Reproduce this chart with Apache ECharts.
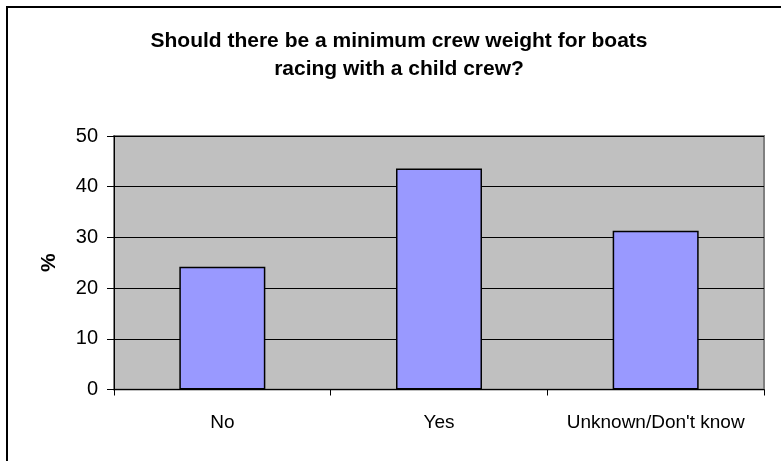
<!DOCTYPE html>
<html>
<head>
<meta charset="utf-8">
<script src="https://cdn.jsdelivr.net/npm/echarts@6/dist/echarts.min.js"></script>
<style>html,body{margin:0;padding:0;background:#fff}#c{width:781px;height:461px}</style>
</head>
<body>
<div id="c"></div>
<script>
var titleText = "Should there be a minimum crew weight for boats\nracing with a child crew?";
var categories = ["No", "Yes", "Unknown/Don't know"];
var values = [24.2, 43.6, 31.3];
var yTicks = [0, 10, 20, 30, 40, 50];
var yName = "%";

var chart = echarts.init(document.getElementById('c'), null, {renderer: 'canvas'});
var font = 'Liberation Sans, Arial, sans-serif';
chart.setOption({
  animation: false,
  backgroundColor: '#fff',
  title: {
    text: titleText,
    left: 394, top: 22, textAlign: 'center',
    textStyle: {fontFamily: font, fontSize: 21, fontWeight: 'bold', color: '#000', lineHeight: 28}
  },
  graphic: [{
    type: 'rect', shape: {x: 7, y: 7, width: 820, height: 520},
    style: {fill: 'none', stroke: '#000', lineWidth: 2}, silent: true, z: 100
  }],
  grid: {
    left: 114, right: 17, top: 136, bottom: 71.5,
    show: true, backgroundColor: '#C0C0C0', borderColor: '#808080', borderWidth: 2
  },
  xAxis: {
    type: 'category', data: categories,
    axisLine: {lineStyle: {color: '#000', width: 1}},
    axisTick: {show: true, length: 6, interval: 0, lineStyle: {color: '#000'}},
    axisLabel: {interval: 0, hideOverlap: false, fontFamily: font, fontSize: 19, color: '#000', margin: 24}
  },
  yAxis: {
    type: 'value', min: yTicks[0], max: yTicks[yTicks.length - 1], interval: 10,
    name: yName, nameLocation: 'middle', nameGap: 54, nameRotate: 90,
    nameTextStyle: {fontFamily: font, fontSize: 21, fontWeight: 'bold', color: '#000'},
    axisLine: {show: true, lineStyle: {color: '#000', width: 1}},
    axisTick: {show: true, length: 7, lineStyle: {color: '#000'}},
    axisLabel: {fontFamily: font, fontSize: 20, color: '#000', margin: 16},
    splitLine: {show: true, lineStyle: {color: '#000', width: 1}}
  },
  series: [{
    type: 'bar', data: values, barWidth: 86,
    itemStyle: {color: '#9999FF', borderColor: '#000', borderWidth: 1.5}
  }]
});
</script>
</body>
</html>
